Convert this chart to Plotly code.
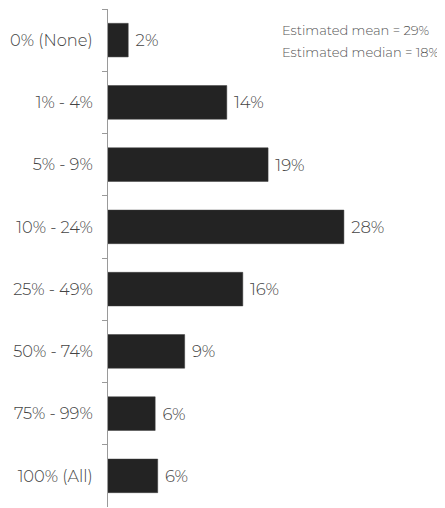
import plotly.graph_objects as go

categories = ["0% (None)", "1% - 4%", "5% - 9%", "10% - 24%", "25% - 49%", "50% - 74%", "75% - 99%", "100% (All)"]
values = [2.4, 14.1, 19.0, 28.0, 16.0, 9.1, 5.6, 5.9]
labels = ["2%", "14%", "19%", "28%", "16%", "9%", "6%", "6%"]
note_lines = ["Estimated mean = 29%", "Estimated median = 18%"]

FONT = "Montserrat, Lato, 'Open Sans', sans-serif"

# page body has an 8px default margin, so the figure is 8px smaller
W, H = 437, 500
L, T, B = 100, 1, 1

fig = go.Figure(go.Bar(
    x=values, y=categories, orientation="h",
    marker=dict(color="#232323", line=dict(color="#3a3a3a", width=0.5)),
    text=["\u00a0" + t for t in labels], textposition="outside", cliponaxis=False,
    textfont=dict(family=FONT, size=16.5, color="#444444", weight=300),
    width=0.54,
))

fig.update_layout(
    width=W, height=H,
    margin=dict(l=L, r=0, t=T, b=B),
    paper_bgcolor="white", plot_bgcolor="white",
    showlegend=False,
    font=dict(family=FONT, size=15, color="#444444", weight=300),
    xaxis=dict(visible=False, range=[0, 40], automargin=False),
    yaxis=dict(
        autorange="reversed", type="category", automargin=False,
        showline=True, linecolor="#9a9a9a", linewidth=1,
        ticks="outside", tickson="boundaries", ticklen=5, tickcolor="#9a9a9a",
        ticklabelstandoff=11,
        showgrid=False, zeroline=False,
        tickfont=dict(family=FONT, size=16.3, color="#444444", weight=300),
    ),
    annotations=[
        dict(
            xref="paper", yref="paper", x=(272 - L) / (W - L), y=1 - (y - T) / (H - T - B),
            xanchor="left", yanchor="middle",
            text=line, showarrow=False, align="left",
            font=dict(family=FONT, size=13, color="#555555", weight=300),
        )
        for line, y in zip(note_lines, [22, 44])
    ],
)

fig.write_html("out.html")
